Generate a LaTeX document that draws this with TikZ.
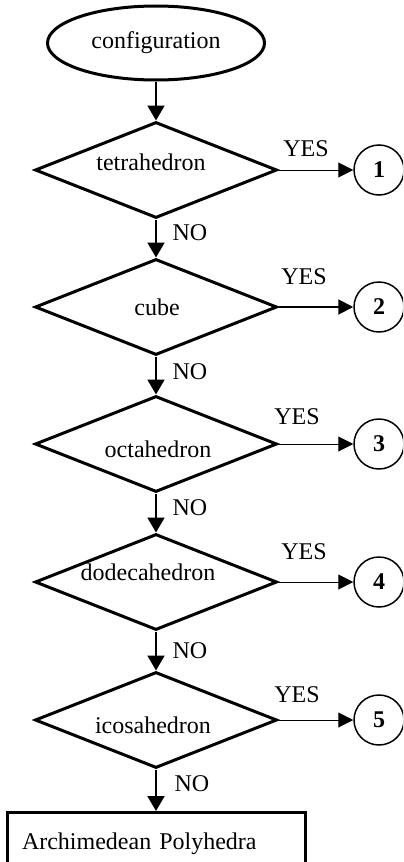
\documentclass[tikz,border=0pt]{standalone}
\usepackage{fontspec}
\setmainfont{Liberation Serif}
\usetikzlibrary{shapes.geometric, arrows.meta}

\begin{document}
\begin{tikzpicture}[x=0.5pt, y=-0.5pt,
  font=\fontsize{12}{14}\selectfont,
  term/.style={draw, ellipse, line width=1.5pt, minimum width=108.5pt,
               minimum height=37pt, inner sep=0pt},
  decision/.style={draw, diamond, line width=1.5pt, minimum width=121pt,
                   minimum height=48pt, inner sep=0pt},
  answer/.style={draw, circle, line width=0.75pt, minimum size=25pt,
                 inner sep=0pt, font=\fontsize{12}{14}\selectfont\bfseries},
  result/.style={draw, line width=1.5pt, minimum width=149pt, minimum height=31pt,
                 text width=134pt, inner xsep=7.5pt, align=left},
  flow/.style={-{Triangle[length=7.5pt, width=8.5pt]}, line width=1pt},
  yesline/.style={-{Triangle[length=7.5pt, width=7.5pt]}, line width=0.5pt},
]
\useasboundingbox (0,0) rectangle (403,862);
\clip (0,0) rectangle (403,862);

% Start
\node[term] (cfg) at (156,43) {configuration};

% Tests
\node[decision] (tet) at (156,170) {};
\node (tettxt) at (151,162) {tetrahedron};
\node[decision] (cube) at (156,307) {};
\node (cubetxt) at (157,307) {cube};
\node[decision] (oct) at (156,444) {};
\node (octtxt) at (158,449) {octahedron};
\node[decision] (dod) at (156,582) {};
\node (dodtxt) at (148,572) {dodecahedron};
\node[decision] (ico) at (156,720) {};
\node (icotxt) at (153,725) {icosahedron};

% Outcomes
\node[answer] (c1) at (379,170) {1};
\node[answer] (c2) at (379,307) {2};
\node[answer] (c3) at (379,444) {3};
\node[answer] (c4) at (379,582) {4};
\node[answer] (c5) at (379,720) {5};

\node[result, anchor=north] (arch) at (156,811) {Archimedean Polyhedra};

% NO branch
\draw[flow] (cfg) -- (tet);
\draw[flow] (tet) -- (cube);
\draw[flow] (cube) -- (oct);
\draw[flow] (oct) -- (dod);
\draw[flow] (dod) -- (ico);
\draw[flow] (ico) -- (arch);

\node (no1) at (190,233) {NO};
\node (no2) at (190,372) {NO};
\node (no3) at (190,508) {NO};
\node (no4) at (190,651) {NO};
\node (no5) at (192,784) {NO};

% YES branch
\draw[yesline] (tet.east) -- (c1);
\draw[yesline, line width=1pt] (cube.east) -- (c2);
\draw[yesline] (oct.east) -- (c3);
\draw[yesline] (dod.east) -- (c4);
\draw[yesline] (ico.east) -- (c5);

\node (yes1) at (306,149) {YES};
\node (yes2) at (304,277) {YES};
\node (yes3) at (297,417) {YES};
\node (yes4) at (304,552) {YES};
\node (yes5) at (297,695) {YES};
\end{tikzpicture}
\end{document}
